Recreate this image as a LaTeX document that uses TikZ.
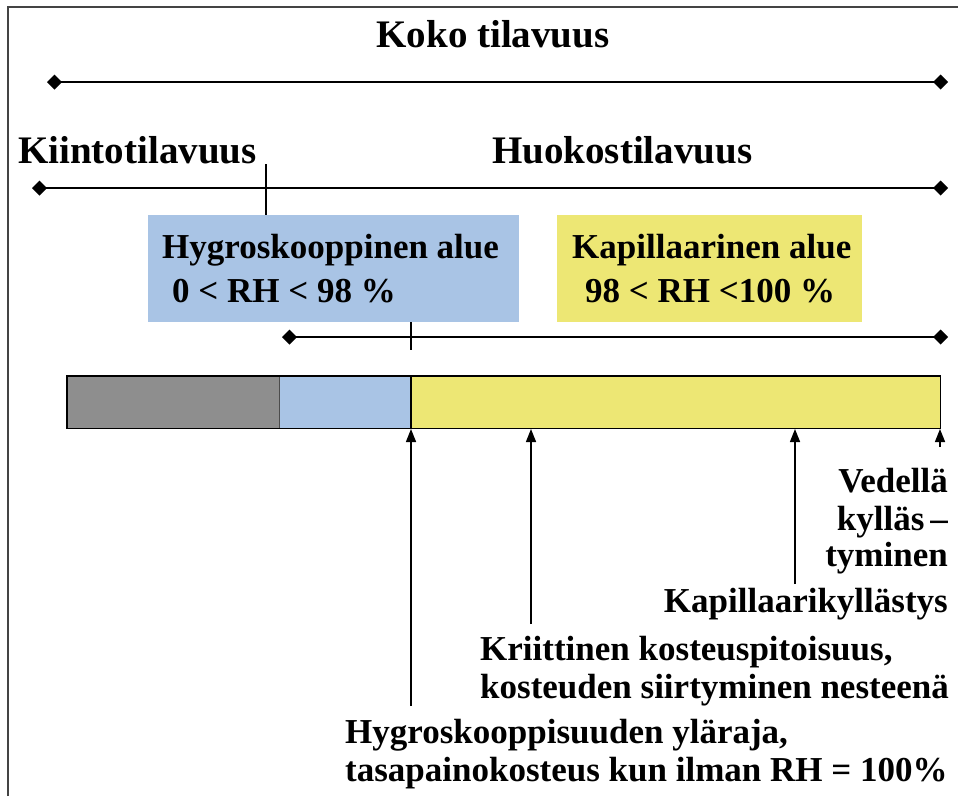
\documentclass[tikz,border=0pt]{standalone}
\usepackage{fontspec}
\setmainfont{Liberation Serif}
\usetikzlibrary{arrows.meta}
\definecolor{hblue}{HTML}{A9C4E5}
\definecolor{kyellow}{HTML}{EDE774}
\definecolor{sgray}{HTML}{8E8E8E}
\definecolor{framegray}{HTML}{444444}
\begin{document}
\begin{tikzpicture}[x=1pt,y=-1pt,
  big/.style={font=\fontsize{39}{44}\selectfont\bfseries, inner sep=0pt},
  txt/.style={font=\fontsize{35}{40}\selectfont\bfseries, inner sep=0pt},
  spanline/.style={line width=2.6pt, {Turned Square[width=15pt,length=15pt]}-{Turned Square[width=15pt,length=15pt]}},
  tickline/.style={line width=1.4pt},
  arr/.style={line width=1.5pt, -{Triangle[width=10pt,length=13pt]}},
  areabox/.style={draw=none, inner sep=0pt, anchor=north west},
  seg/.style={draw=none, inner sep=0pt, anchor=north west, minimum height=52pt}
]
\useasboundingbox (0,0) rectangle (958,796);
\fill[white] (0,0) rectangle (958,796);
% frame (top and left edges)
\draw[line width=2.6pt, framegray] (8,796) -- (8,7) -- (958,7);

% headings
\node[big, anchor=base] (koko) at (493,47) {Koko tilavuus};
\node[big, anchor=base west] (kiin) at (18,163) {Kiintotilavuus};
\node[big, anchor=base west] (huok) at (492,163) {Huokostilavuus};

% span lines
\coordinate (r1a) at (47,82);  \coordinate (r1b) at (948,82);
\coordinate (r2a) at (32,188); \coordinate (r2b) at (948,188);
\coordinate (r3a) at (282,337); \coordinate (r3b) at (948,337);
\draw[spanline] (r1a) -- (r1b);
\draw[spanline] (r2a) -- (r2b);
\draw[spanline] (r3a) -- (r3b);

% area boxes
\node[areabox, fill=hblue, minimum width=371pt, minimum height=107pt] (hbox) at (148,215) {};
\node[areabox, fill=kyellow, minimum width=305pt, minimum height=107pt] (kbox) at (557,215) {};
\node[txt, anchor=base west] (h1) at (162,258) {Hygroskooppinen alue};
\node[txt, anchor=base west] (h2) at (172,302) {0 < RH < 98 \%};
\node[txt, anchor=base west] (k1) at (572,258) {Kapillaarinen alue};
\node[txt, anchor=base west] (k2) at (585,302) {98 < RH <100 \%};

% ticks
\coordinate (t1a) at (266,164); \coordinate (t1b) at (266,215);
\draw[tickline] (t1a) -- (t1b);
\coordinate (t2a) at (411,322); \coordinate (t2b) at (411,350);
\draw[tickline] (t2a) -- (t2b);

% bar
\node[seg, fill=sgray, minimum width=212pt] (sgseg) at (67,376) {};
\node[seg, fill=hblue, minimum width=132pt] (hbseg) at (279,376) {};
\node[seg, fill=kyellow, minimum width=529pt] (kyseg) at (411,376) {};
\draw[line width=1.2pt, black!70] (sgseg.north east) -- (sgseg.south east);
\draw[line width=1.6pt] (kyseg.north west) -- (kyseg.south west);
\draw[line width=1.6pt] (sgseg.north west) rectangle (kyseg.south east);

% labels
\node[txt, anchor=base east] (v1) at (948,492) {Vedellä};
\node[txt, anchor=base east] (v2) at (948,530) {kylläs\,–};
\node[txt, anchor=base east] (v3) at (948,566) {tyminen};
\node[txt, anchor=base east] (kap) at (948,612) {Kapillaarikyllästys};
\node[txt, anchor=base west] (kr1) at (480,660) {Kriittinen kosteuspitoisuus,};
\node[txt, anchor=base west] (kr2) at (480,698) {kosteuden siirtyminen nesteenä};
\node[txt, anchor=base west] (hy1) at (345,743) {Hygroskooppisuuden yläraja,};
\node[txt, anchor=base west] (hy2) at (345,781) {tasapainokosteus kun ilman RH = 100\%};

% arrows
\coordinate (a1s) at (411,706); \coordinate (a1e) at (411,429);
\coordinate (a2s) at (531,624); \coordinate (a2e) at (531,429);
\coordinate (a3s) at (795,584); \coordinate (a3e) at (795,429);
\coordinate (a4s) at (940,447); \coordinate (a4e) at (940,429);
\draw[arr] (a1s) -- (a1e);
\draw[arr] (a2s) -- (a2e);
\draw[arr] (a3s) -- (a3e);
\draw[arr] (a4s) -- (a4e);
\end{tikzpicture}
\end{document}
